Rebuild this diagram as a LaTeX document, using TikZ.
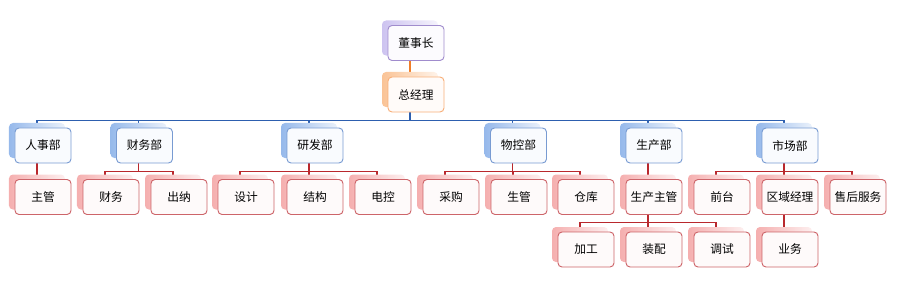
\documentclass[tikz,border=0pt]{standalone}
\usepackage{fontspec}
\setmainfont{Noto Sans CJK SC}
\usetikzlibrary{shadows,backgrounds}
\definecolor{toppurple}{RGB}{160,140,205}
\definecolor{topshade}{RGB}{205,195,240}
\definecolor{gmorange}{RGB}{248,175,120}
\definecolor{gmshade}{RGB}{250,195,150}
\definecolor{deptblue}{RGB}{120,155,210}
\definecolor{deptshade}{RGB}{150,185,235}
\definecolor{unitred}{RGB}{205,100,105}
\definecolor{unitshade}{RGB}{245,175,175}
\definecolor{lineorange}{RGB}{240,125,40}
\definecolor{lineblue}{RGB}{45,95,175}
\definecolor{linered}{RGB}{185,40,45}

\begin{document}
\begin{tikzpicture}[x=0.03cm, y=-0.03cm,
  box/.style={draw, rounded corners=1.2mm, minimum width=1.68cm, minimum height=1.05cm,
    inner sep=1pt, line width=0.8pt, font=\fontsize{10}{12}\selectfont},
  topbox/.style={box, draw=toppurple, fill=topshade!6,
    general shadow={shadow xshift=-1.8mm, shadow yshift=1.5mm, left color=topshade, right color=topshade!20}},
  gmbox/.style={box, draw=gmorange, fill=gmshade!6,
    general shadow={shadow xshift=-1.8mm, shadow yshift=1.5mm, left color=gmshade, right color=gmshade!20}},
  deptbox/.style={box, draw=deptblue, fill=deptshade!6,
    general shadow={shadow xshift=-1.8mm, shadow yshift=1.5mm, left color=deptshade, right color=deptshade!20}},
  unitbox/.style={box, draw=unitred, fill=unitshade!6,
    general shadow={shadow xshift=-1.8mm, shadow yshift=1.5mm, left color=unitshade, right color=unitshade!20}},
  orangeline/.style={draw=lineorange, line width=1.5pt},
  blueline/.style={draw=lineblue, line width=1.5pt},
  redline/.style={draw=linered, line width=1.5pt}]
\useasboundingbox (0,0) rectangle (900,284);

\node[topbox] (dongshizhang) at (416,43) {董事长};
\node[gmbox] (zongjingli) at (416,94.5) {总经理};

\node[deptbox] (renshi) at (43,145.5) {人事部};
\node[deptbox] (caiwubu) at (144.5,145.5) {财务部};
\node[deptbox] (yanfa) at (315,145.5) {研发部};
\node[deptbox] (wukong) at (518.5,145.5) {物控部};
\node[deptbox] (shengchan) at (654,145.5) {生产部};
\node[deptbox] (shichang) at (790,145.5) {市场部};

\node[unitbox] (zhuguan) at (43,197) {主管};
\node[unitbox] (caiwu) at (111,197) {财务};
\node[unitbox] (chuna) at (179,197) {出纳};
\node[unitbox] (sheji) at (246,197) {设计};
\node[unitbox] (jiegou) at (315,197) {结构};
\node[unitbox] (diankong) at (383,197) {电控};
\node[unitbox] (caigou) at (451,197) {采购};
\node[unitbox] (shengguan) at (519,197) {生管};
\node[unitbox] (cangku) at (586,197) {仓库};
\node[unitbox] (sczhuguan) at (654,197) {生产主管};
\node[unitbox] (qiantai) at (722,197) {前台};
\node[unitbox] (quyu) at (790,197) {区域经理};
\node[unitbox] (shouhou) at (858,197) {售后服务};

\node[unitbox] (jiagong) at (586,249.5) {加工};
\node[unitbox] (zhuangpei) at (654,249.5) {装配};
\node[unitbox] (tiaoshi) at (722,249.5) {调试};
\node[unitbox] (yewu) at (790,249.5) {业务};

\begin{scope}[on background layer]
% top of the chart
\draw[orangeline] ([xshift=-1.8mm]dongshizhang.south) -- ([xshift=-1.8mm]zongjingli.north);
\draw[blueline] ([xshift=-1.8mm]zongjingli.south) -- ++(0,8) -| ([xshift=-1.8mm]renshi.north);
\draw[blueline] ([xshift=-1.8mm]zongjingli.south) -- ++(0,8) -| ([xshift=-1.8mm]caiwubu.north);
\draw[blueline] ([xshift=-1.8mm]zongjingli.south) -- ++(0,8) -| ([xshift=-1.8mm]yanfa.north);
\draw[blueline] ([xshift=-1.8mm]zongjingli.south) -- ++(0,8) -| ([xshift=-1.8mm]wukong.north);
\draw[blueline] ([xshift=-1.8mm]zongjingli.south) -- ++(0,8) -| ([xshift=-1.8mm]shengchan.north);
\draw[blueline] ([xshift=-1.8mm]zongjingli.south) -- ++(0,8) -| ([xshift=-1.8mm]shichang.north);
% departments
\draw[redline] ([xshift=-1.8mm]renshi.south) -- ([xshift=-1.8mm]zhuguan.north);
\draw[redline] ([xshift=-1.8mm]caiwubu.south) -- ++(0,8) -| ([xshift=-1.8mm]caiwu.north);
\draw[redline] ([xshift=-1.8mm]caiwubu.south) -- ++(0,8) -| ([xshift=-1.8mm]chuna.north);
\draw[redline] ([xshift=-1.8mm]yanfa.south) -- ++(0,8) -| ([xshift=-1.8mm]sheji.north);
\draw[redline] ([xshift=-1.8mm]yanfa.south) -- ++(0,8) -| ([xshift=-1.8mm]jiegou.north);
\draw[redline] ([xshift=-1.8mm]yanfa.south) -- ++(0,8) -| ([xshift=-1.8mm]diankong.north);
\draw[redline] ([xshift=-1.8mm]wukong.south) -- ++(0,8) -| ([xshift=-1.8mm]caigou.north);
\draw[redline] ([xshift=-1.8mm]wukong.south) -- ++(0,8) -| ([xshift=-1.8mm]shengguan.north);
\draw[redline] ([xshift=-1.8mm]wukong.south) -- ++(0,8) -| ([xshift=-1.8mm]cangku.north);
\draw[redline] ([xshift=-1.8mm]shengchan.south) -- ([xshift=-1.8mm]sczhuguan.north);
\draw[redline] ([xshift=-1.8mm]shichang.south) -- ++(0,8) -| ([xshift=-1.8mm]qiantai.north);
\draw[redline] ([xshift=-1.8mm]shichang.south) -- ++(0,8) -| ([xshift=-1.8mm]quyu.north);
\draw[redline] ([xshift=-1.8mm]shichang.south) -- ++(0,8) -| ([xshift=-1.8mm]shouhou.north);
% lowest row
\draw[redline] ([xshift=-1.8mm]sczhuguan.south) -- ++(0,7.5) -| ([xshift=-1.8mm]jiagong.north);
\draw[redline] ([xshift=-1.8mm]sczhuguan.south) -- ++(0,7.5) -| ([xshift=-1.8mm]zhuangpei.north);
\draw[redline] ([xshift=-1.8mm]sczhuguan.south) -- ++(0,7.5) -| ([xshift=-1.8mm]tiaoshi.north);
\draw[redline] ([xshift=-1.8mm]quyu.south) -- ([xshift=-1.8mm]yewu.north);
\end{scope}
\end{tikzpicture}
\end{document}
